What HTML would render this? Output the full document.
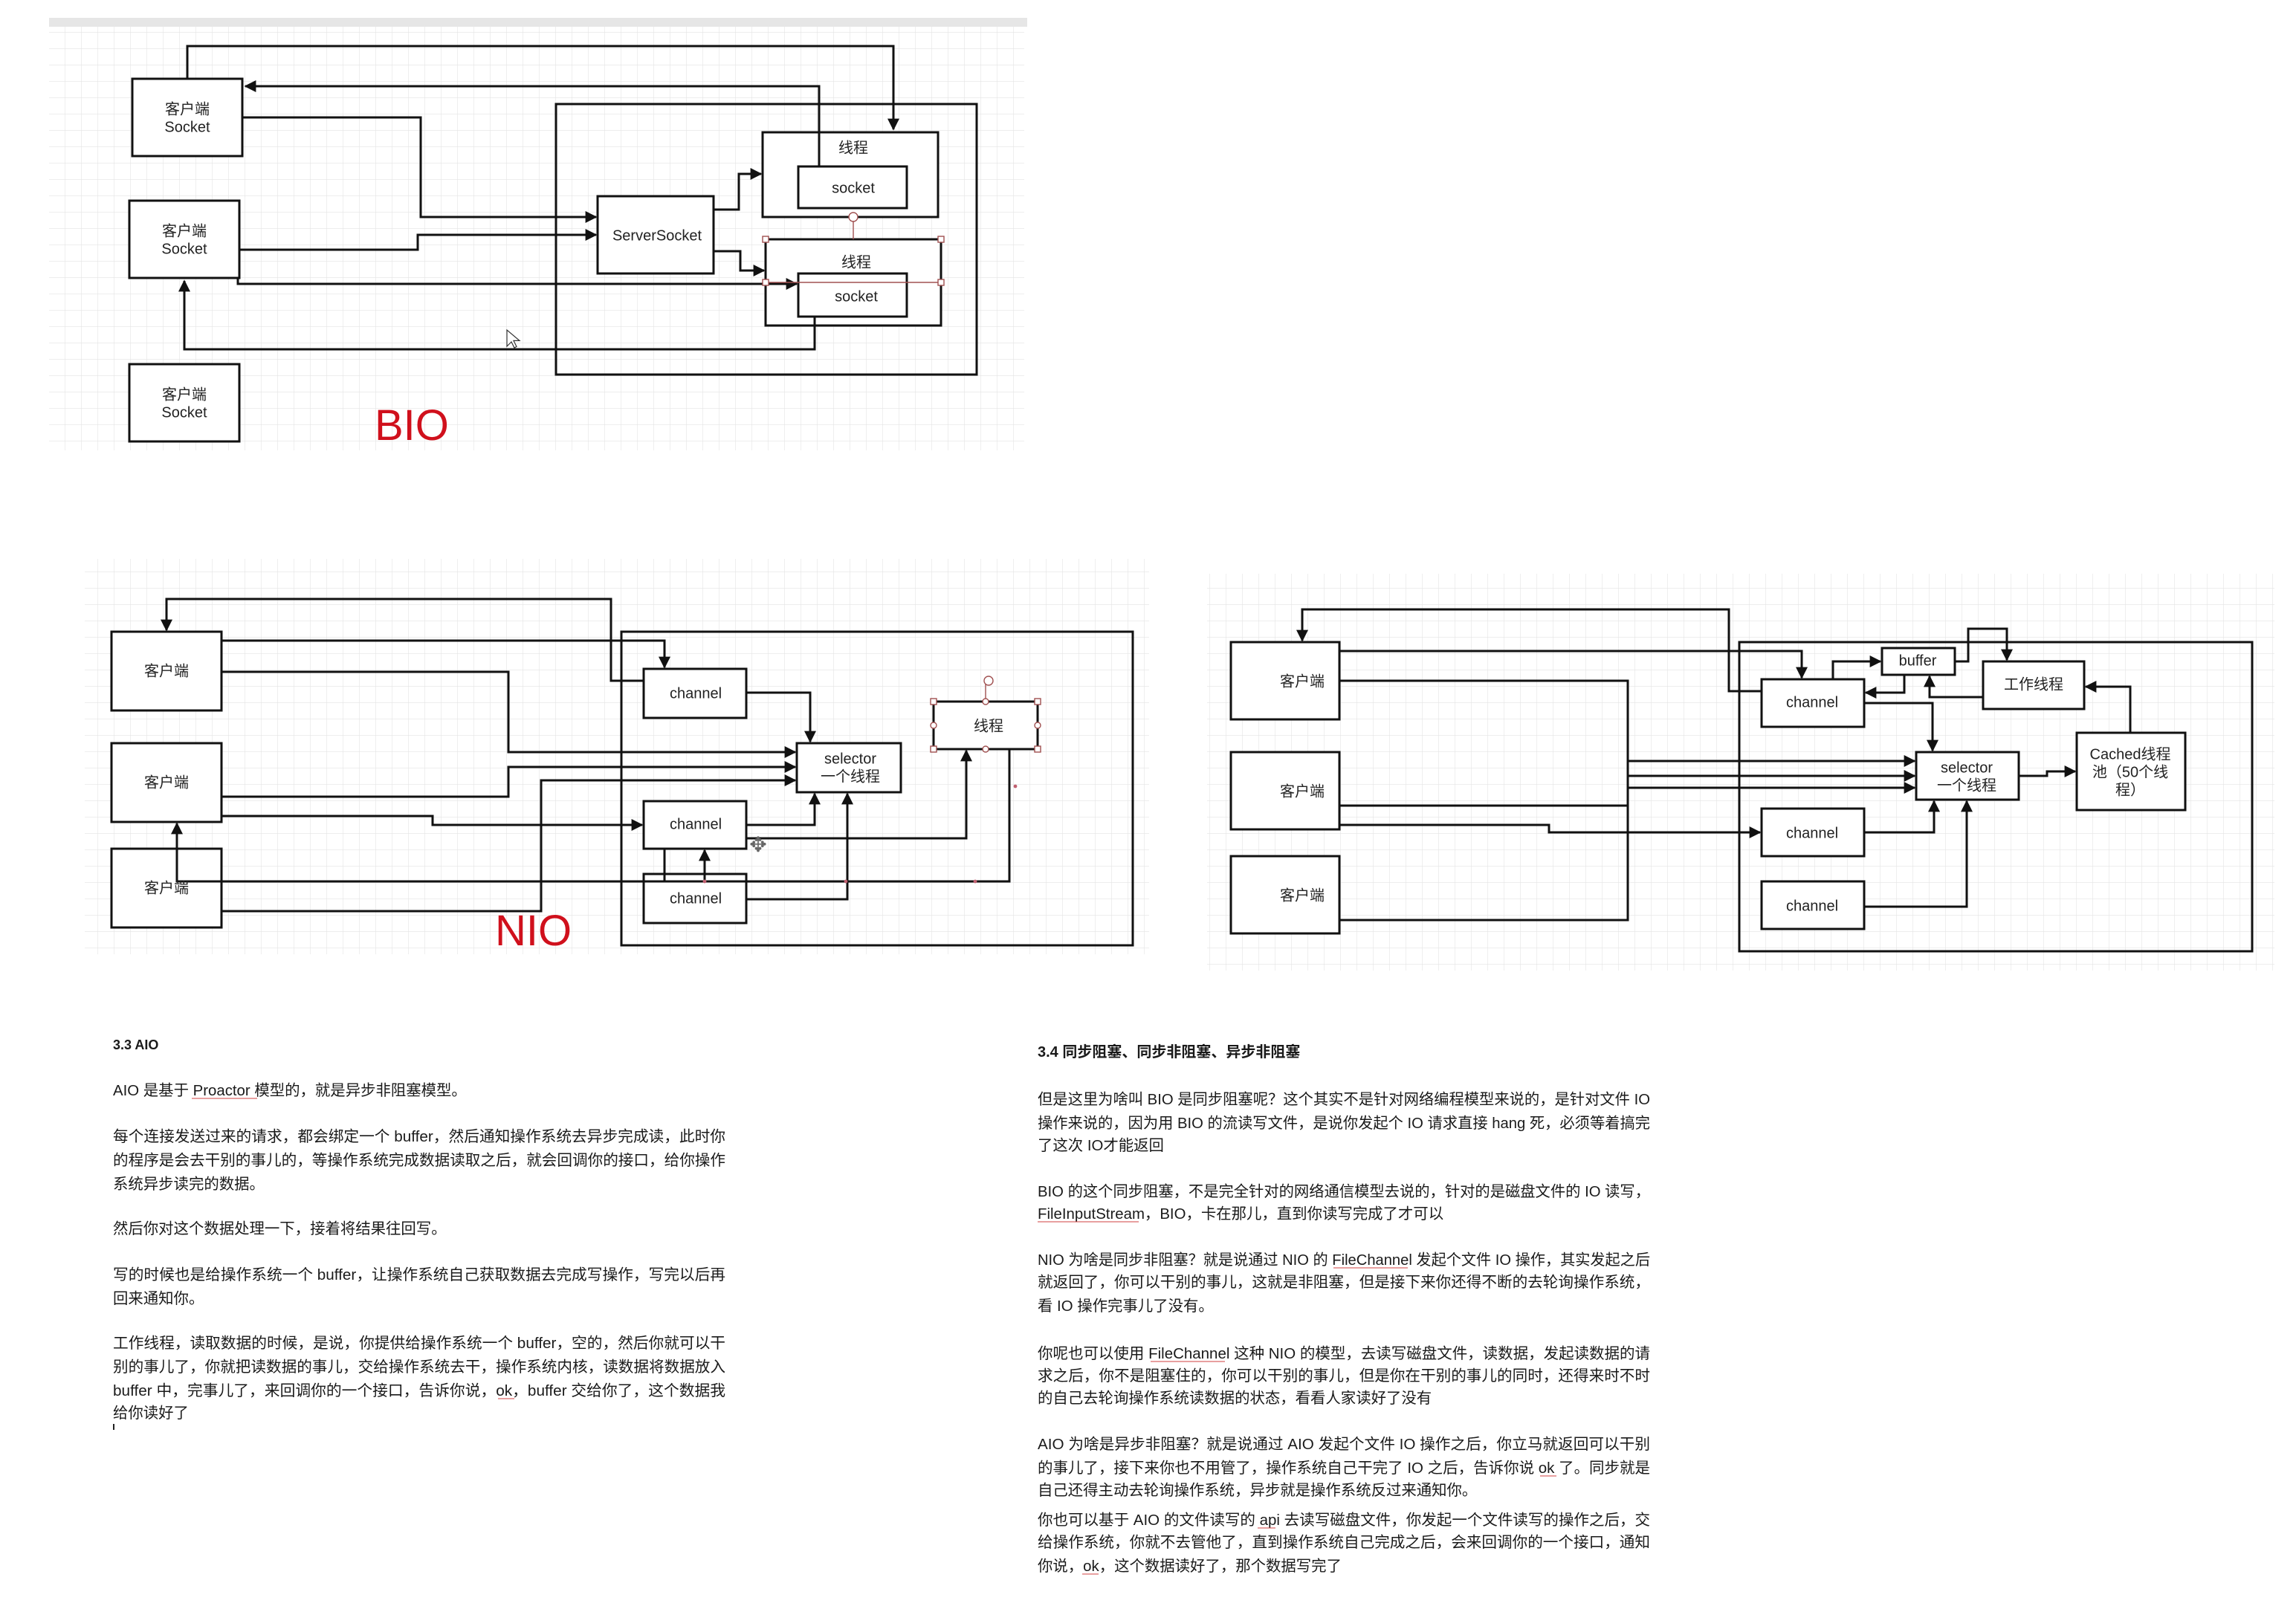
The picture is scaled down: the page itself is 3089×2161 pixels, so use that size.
<!DOCTYPE html>
<html><head><meta charset="utf-8">
<style>
html,body{margin:0;padding:0;background:#fff;}
svg{display:block;}
.t{font-family:"Liberation Sans","Noto Sans CJK SC",sans-serif;fill:#222;}
.lb{font-size:10px;text-anchor:middle;dominant-baseline:middle;}
.p{font-size:10.2px;fill:#1a1a1a;}
</style></head><body>
<svg width="3089" height="2161" viewBox="0 0 1544.5 1080.5" xmlns="http://www.w3.org/2000/svg">
<defs>
<pattern id="g" width="11" height="11" patternUnits="userSpaceOnUse">
<path d="M11,0V11M0,11H11" fill="none" stroke="#e4e4e4" stroke-width="0.6"/>
</pattern>
<marker id="a" viewBox="0 0 10 10" refX="9" refY="5" markerWidth="8" markerHeight="8" markerUnits="userSpaceOnUse" orient="auto">
<path d="M0,0L10,5L0,10Z" fill="#111"/>
</marker>
</defs>
<rect width="1544.5" height="1080.5" fill="#fff"/>

<!-- ========== BIO ========== -->
<rect x="33" y="17" width="656" height="286" fill="url(#g)"/>
<rect x="33" y="12" width="658" height="6" fill="#e6e6e6"/>
<g fill="#fff" stroke="#111" stroke-width="1.5">
<rect x="89" y="53" width="74" height="52"/>
<rect x="87" y="135" width="74" height="52"/>
<rect x="87" y="245" width="74" height="52"/>
<rect x="374" y="70" width="283" height="182" fill="none"/>
<rect x="513" y="89" width="118" height="57"/>
<rect x="537" y="112" width="73" height="28"/>
<rect x="402" y="132" width="78" height="52"/>
<rect x="515" y="161" width="118" height="58"/>
<rect x="537" y="184" width="73" height="29"/>
</g>
<g fill="none" stroke="#111" stroke-width="1.5">
<path d="M126,53V31H601V87" marker-end="url(#a)"/>
<path d="M551,112V58H165" marker-end="url(#a)"/>
<path d="M163,79H283V146H401" marker-end="url(#a)"/>
<path d="M161,168H281V158H401" marker-end="url(#a)"/>
<path d="M160,187V191H536" marker-end="url(#a)"/>
<path d="M480,141H497V117H512" marker-end="url(#a)"/>
<path d="M480,169H498V182H514" marker-end="url(#a)"/>
<path d="M548,213V235H124V189" marker-end="url(#a)"/>
</g>
<g fill="#fff" stroke="#a05050" stroke-width="0.7">
<line x1="574" y1="149" x2="574" y2="161"/>
<line x1="515" y1="190" x2="633" y2="190"/>
<circle cx="574" cy="146" r="3"/>
<rect x="513" y="159" width="4" height="4"/><rect x="631" y="159" width="4" height="4"/>
<rect x="513" y="188" width="4" height="4"/><rect x="631" y="188" width="4" height="4"/>
</g>
<path d="M341,222l0,11l3,-3l2,4l1.5,-0.8l-2,-4l4,0z" fill="#fff" stroke="#333" stroke-width="0.6"/>
<g class="t lb">
<text x="126" y="74">客户端</text><text x="126" y="86">Socket</text>
<text x="124" y="156">客户端</text><text x="124" y="168">Socket</text>
<text x="124" y="266">客户端</text><text x="124" y="278">Socket</text>
<text x="574" y="100">线程</text><text x="574" y="127">socket</text>
<text x="442" y="159">ServerSocket</text>
<text x="576" y="177">线程</text><text x="576" y="200">socket</text>
</g>
<text x="252" y="296" class="t" style="font-size:29px;fill:#d0101c">BIO</text>

<!-- ========== NIO ========== -->
<rect x="57" y="376" width="716" height="266" fill="url(#g)"/>
<g fill="#fff" stroke="#111" stroke-width="1.5">
<rect x="75" y="425" width="74" height="53"/>
<rect x="75" y="500" width="74" height="53"/>
<rect x="75" y="571" width="74" height="53"/>
<rect x="418" y="425" width="344" height="211" fill="none"/>
<rect x="433" y="450" width="69" height="33"/>
<rect x="536" y="500" width="70" height="33"/>
<rect x="628" y="472" width="70" height="32"/>
<rect x="433" y="539" width="69" height="32"/>
<rect x="433" y="588" width="69" height="33"/>
</g>
<g fill="none" stroke="#111" stroke-width="1.5">
<path d="M433,458H411V403H112V424" marker-end="url(#a)"/>
<path d="M149,431H447V449" marker-end="url(#a)"/>
<path d="M149,452H342V506H535" marker-end="url(#a)"/>
<path d="M149,536H342V516H535" marker-end="url(#a)"/>
<path d="M149,613H364V525H535" marker-end="url(#a)"/>
<path d="M149,549H291V555H432" marker-end="url(#a)"/>
<path d="M502,466H545V499" marker-end="url(#a)"/>
<path d="M502,555H548V534" marker-end="url(#a)"/>
<path d="M502,605H570V534" marker-end="url(#a)"/>
<path d="M502,564H650V505" marker-end="url(#a)"/>
<path d="M679,504V593H119V554" marker-end="url(#a)"/>
<path d="M447,571V593"/>
<path d="M474,593V572" marker-end="url(#a)"/>
</g>
<g fill="#fff" stroke="#a05050" stroke-width="0.7">
<line x1="663" y1="460" x2="663" y2="472"/>
<circle cx="665" cy="458" r="3"/>
<rect x="626" y="470" width="4" height="4"/><rect x="696" y="470" width="4" height="4"/>
<rect x="626" y="502" width="4" height="4"/><rect x="696" y="502" width="4" height="4"/>
<circle cx="628" cy="488" r="2"/><circle cx="698" cy="488" r="2"/>
<circle cx="663" cy="472" r="2"/><circle cx="663" cy="504" r="2"/>
</g>
<g fill="#c06070"><circle cx="474" cy="593" r="1.2"/><circle cx="569" cy="593" r="1.2"/><circle cx="656" cy="593" r="1.2"/><circle cx="683" cy="529" r="1.2"/></g>
<text x="510" y="573" class="t" style="font-size:14px;text-anchor:middle;fill:#666">✥</text>
<g class="t lb">
<text x="112" y="452">客户端</text><text x="112" y="527">客户端</text><text x="112" y="598">客户端</text>
<text x="468" y="467">channel</text><text x="468" y="555">channel</text><text x="468" y="605">channel</text>
<text x="572" y="511">selector</text><text x="572" y="523">一个线程</text>
<text x="665" y="489">线程</text>
</g>
<text x="333" y="636" class="t" style="font-size:29px;fill:#d0101c">NIO</text>

<!-- ========== NIO + thread pool ========== -->
<rect x="812" y="386" width="718" height="267" fill="url(#g)"/>
<g fill="#fff" stroke="#111" stroke-width="1.5">
<rect x="828" y="432" width="73" height="52"/>
<rect x="828" y="506" width="73" height="52"/>
<rect x="828" y="576" width="73" height="52"/>
<rect x="1170" y="432" width="345" height="208" fill="none"/>
<rect x="1185" y="457" width="69" height="32"/>
<rect x="1266" y="436" width="49" height="18"/>
<rect x="1334" y="445" width="68" height="32"/>
<rect x="1289" y="506" width="69" height="32"/>
<rect x="1397" y="493" width="73" height="52"/>
<rect x="1185" y="544" width="69" height="32"/>
<rect x="1185" y="593" width="69" height="32"/>
</g>
<g fill="none" stroke="#111" stroke-width="1.5">
<path d="M1185,465H1163V410H876V431" marker-end="url(#a)"/>
<path d="M901,438H1212V456" marker-end="url(#a)"/>
<path d="M901,458H1095V512H1288" marker-end="url(#a)"/>
<path d="M1095,512V619H901"/>
<path d="M901,542H1095"/>
<path d="M1095,522H1288" marker-end="url(#a)"/>
<path d="M1095,530H1288" marker-end="url(#a)"/>
<path d="M901,555H1042V560H1184" marker-end="url(#a)"/>
<path d="M1233,457V445H1265" marker-end="url(#a)"/>
<path d="M1281,454V466H1255" marker-end="url(#a)"/>
<path d="M1315,445H1324V423H1350V444" marker-end="url(#a)"/>
<path d="M1334,469H1298V455" marker-end="url(#a)"/>
<path d="M1254,473H1300V505" marker-end="url(#a)"/>
<path d="M1254,560H1301V539" marker-end="url(#a)"/>
<path d="M1254,610H1323V539" marker-end="url(#a)"/>
<path d="M1358,522H1377V519H1396" marker-end="url(#a)"/>
<path d="M1433,493V462H1403" marker-end="url(#a)"/>
</g>
<g class="t lb">
<text x="876" y="459">客户端</text><text x="876" y="533">客户端</text><text x="876" y="603">客户端</text>
<text x="1219" y="473">channel</text><text x="1219" y="561">channel</text><text x="1219" y="610">channel</text>
<text x="1290" y="445">buffer</text>
<text x="1368" y="461">工作线程</text>
<text x="1323" y="517">selector</text><text x="1323" y="529">一个线程</text>
<text x="1433" y="508">Cached线程</text><text x="1433" y="520">池（50个线</text><text x="1433" y="532">程）</text>
</g>

<!-- ========== Text left ========== -->
<g class="t p">
<text x="76" y="706" style="font-weight:bold;font-size:9px">3.3 AIO</text>
<text x="76" y="737">AIO 是基于 Proactor 模型的，就是异步非阻塞模型。</text>
<text x="76" y="768" textLength="412" lengthAdjust="spacingAndGlyphs">每个连接发送过来的请求，都会绑定一个 buffer，然后通知操作系统去异步完成读，此时你</text>
<text x="76" y="784" textLength="412" lengthAdjust="spacingAndGlyphs">的程序是会去干别的事儿的，等操作系统完成数据读取之后，就会回调你的接口，给你操作</text>
<text x="76" y="800">系统异步读完的数据。</text>
<text x="76" y="830">然后你对这个数据处理一下，接着将结果往回写。</text>
<text x="76" y="861" textLength="412" lengthAdjust="spacingAndGlyphs">写的时候也是给操作系统一个 buffer，让操作系统自己获取数据去完成写操作，写完以后再</text>
<text x="76" y="877">回来通知你。</text>
<text x="76" y="907" textLength="412" lengthAdjust="spacingAndGlyphs">工作线程，读取数据的时候，是说，你提供给操作系统一个 buffer，空的，然后你就可以干</text>
<text x="76" y="923" textLength="412" lengthAdjust="spacingAndGlyphs">别的事儿了，你就把读数据的事儿，交给操作系统去干，操作系统内核，读数据将数据放入</text>
<text x="76" y="939" textLength="412" lengthAdjust="spacingAndGlyphs">buffer 中，完事儿了，来回调你的一个接口，告诉你说，ok，buffer 交给你了，这个数据我</text>
<text x="76" y="954">给你读好了</text>
</g>
<rect x="76" y="958" width="1" height="4" fill="#222"/>

<!-- ========== Text right ========== -->
<g class="t p">
<text x="698" y="711" style="font-weight:bold;font-size:10px">3.4  同步阻塞、同步非阻塞、异步非阻塞</text>
<text x="698" y="743" textLength="412" lengthAdjust="spacingAndGlyphs">但是这里为啥叫 BIO 是同步阻塞呢？这个其实不是针对网络编程模型来说的，是针对文件 IO</text>
<text x="698" y="759" textLength="412" lengthAdjust="spacingAndGlyphs">操作来说的，因为用 BIO 的流读写文件，是说你发起个 IO 请求直接 hang 死，必须等着搞完</text>
<text x="698" y="774">了这次 IO才能返回</text>
<text x="698" y="805" textLength="412" lengthAdjust="spacingAndGlyphs">BIO 的这个同步阻塞，不是完全针对的网络通信模型去说的，针对的是磁盘文件的 IO 读写，</text>
<text x="698" y="820">FileInputStream，BIO，卡在那儿，直到你读写完成了才可以</text>
<text x="698" y="851" textLength="412" lengthAdjust="spacingAndGlyphs">NIO 为啥是同步非阻塞？就是说通过 NIO 的 FileChannel 发起个文件 IO 操作，其实发起之后</text>
<text x="698" y="866" textLength="412" lengthAdjust="spacingAndGlyphs">就返回了，你可以干别的事儿，这就是非阻塞，但是接下来你还得不断的去轮询操作系统，</text>
<text x="698" y="882">看 IO 操作完事儿了没有。</text>
<text x="698" y="914" textLength="412" lengthAdjust="spacingAndGlyphs">你呢也可以使用 FileChannel 这种 NIO 的模型，去读写磁盘文件，读数据，发起读数据的请</text>
<text x="698" y="929" textLength="412" lengthAdjust="spacingAndGlyphs">求之后，你不是阻塞住的，你可以干别的事儿，但是你在干别的事儿的同时，还得来时不时</text>
<text x="698" y="944">的自己去轮询操作系统读数据的状态，看看人家读好了没有</text>
<text x="698" y="975" textLength="412" lengthAdjust="spacingAndGlyphs">AIO 为啥是异步非阻塞？就是说通过 AIO 发起个文件 IO 操作之后，你立马就返回可以干别</text>
<text x="698" y="991" textLength="412" lengthAdjust="spacingAndGlyphs">的事儿了，接下来你也不用管了，操作系统自己干完了 IO 之后，告诉你说 ok 了。同步就是</text>
<text x="698" y="1006">自己还得主动去轮询操作系统，异步就是操作系统反过来通知你。</text>
<text x="698" y="1026" textLength="412" lengthAdjust="spacingAndGlyphs">你也可以基于 AIO 的文件读写的 api 去读写磁盘文件，你发起一个文件读写的操作之后，交</text>
<text x="698" y="1041" textLength="412" lengthAdjust="spacingAndGlyphs">给操作系统，你就不去管他了，直到操作系统自己完成之后，会来回调你的一个接口，通知</text>
<text x="698" y="1057">你说，ok，这个数据读好了，那个数据写完了</text>
</g>
<g fill="none" stroke="#d04040" stroke-width="0.5">
<path d="M129,739h44"/><path d="M335,941h11"/><path d="M698,822h68"/><path d="M897,853h50"/><path d="M774,916h50"/><path d="M1036,993h11"/><path d="M846,1028h12"/><path d="M728,1059h11"/>
</g>
</svg>
</body></html>
